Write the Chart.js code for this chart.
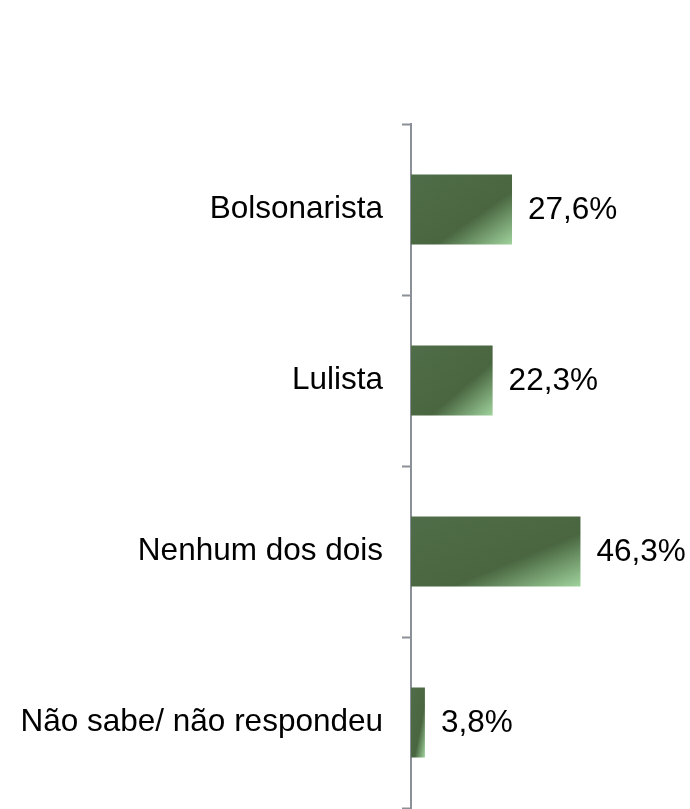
<!DOCTYPE html>
<html>
<head>
<meta charset="utf-8">
<script src="https://cdn.jsdelivr.net/npm/chart.js@4/dist/chart.umd.min.js"></script>
<style>
  html, body { margin: 0; padding: 0; background: #fff; }
  #wrap { width: 690px; height: 809px; }
</style>
</head>
<body>
<div id="wrap"><canvas id="myChart"></canvas></div>
<script>
const categories = ['Bolsonarista', 'Lulista', 'Nenhum dos dois', 'Não sabe/ não respondeu'];
const values = [27.6, 22.3, 46.3, 3.8];

const FONT = '"Liberation Sans", Arial, sans-serif';
const AXIS_COLOR = '#8b8f97';

// diagonal shading of each bar (dark green -> light green in the lower right corner)
const barGradient = {
  id: 'barGradient',
  beforeDatasetsDraw(chart) {
    const ctx = chart.ctx;
    chart.getDatasetMeta(0).data.forEach(el => {
      const p = el.getProps(['x', 'y', 'base', 'height'], true);
      const x0 = Math.min(p.base, p.x);
      const w = Math.max(Math.abs(p.x - p.base), 1);
      const h = p.height;
      const y0 = p.y - h / 2;
      // gradient runs along u+v of the bar's unit square
      const t = 2 / (1 / (w * w) + 1 / (h * h));
      const g = ctx.createLinearGradient(x0, y0, x0 + t / w, y0 + t / h);
      g.addColorStop(0, '#4f6d48');
      g.addColorStop(0.62, '#496640');
      g.addColorStop(1, '#a0d39d');
      el.options = Object.assign({}, el.options, { backgroundColor: g });
    });
  }
};

// value labels at the end of the bars
const valueLabels = {
  id: 'valueLabels',
  afterDatasetsDraw(chart) {
    const ctx = chart.ctx;
    ctx.save();
    ctx.font = '31.5px ' + FONT;
    ctx.fillStyle = '#000';
    ctx.textAlign = 'left';
    ctx.textBaseline = 'middle';
    chart.getDatasetMeta(0).data.forEach((el, i) => {
      const txt = values[i].toFixed(1).replace('.', ',') + '%';
      ctx.fillText(txt, el.x + 16, el.y + 1);
    });
    ctx.restore();
  }
};

new Chart(document.getElementById('myChart'), {
  type: 'bar',
  data: {
    labels: categories,
    datasets: [{
      data: values,
      backgroundColor: '#4a6741',
      borderWidth: 0,
      barPercentage: 0.41,
      categoryPercentage: 1
    }]
  },
  options: {
    indexAxis: 'y',
    responsive: true,
    maintainAspectRatio: false,
    animation: false,
    layout: { padding: { top: 124, right: 96, bottom: 1, left: 0 } },
    scales: {
      x: {
        display: false,
        min: 0,
        max: 50
      },
      y: {
        afterFit(scale) {
          scale.width = 411;
          scale.paddingTop = 0;
          scale.paddingBottom = 0;
        },
        border: { display: true, color: AXIS_COLOR, width: 2 },
        grid: {
          offset: true,
          drawOnChartArea: false,
          drawTicks: true,
          tickLength: 9,
          tickWidth: 2,
          tickColor: AXIS_COLOR
        },
        ticks: {
          padding: 19,
          color: '#000',
          font: { family: FONT, size: 31.5 }
        }
      }
    },
    plugins: {
      legend: { display: false },
      tooltip: { enabled: false }
    }
  },
  plugins: [barGradient, valueLabels]
});
</script>
</body>
</html>
